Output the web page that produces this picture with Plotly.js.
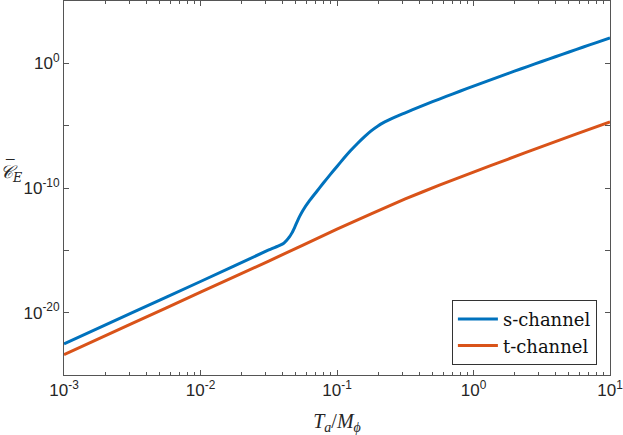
<!DOCTYPE html>
<html>
<head>
<meta charset="utf-8">
<script src="https://cdn.plot.ly/plotly-3.0.1.min.js"></script>
<style>
  html, body { margin: 0; padding: 0; background: #fff; }
  #myDiv { width: 623px; height: 435px; }
</style>
</head>
<body>
<div id="myDiv"></div>
<script>
// values, kept as powers of ten
var sLogX = [-3, -2.5, -2, -1.5, -1.42, -1.39, -1.37, -1.35, -1.33, -1.31, -1.29, -1.27, -1.25,
             -1.2, -1.15, -1.1, -1.05, -1, -0.95, -0.9, -0.85, -0.8, -0.75, -0.7, -0.65, -0.6,
             -0.55, -0.5, -0.4, -0.3, -0.2, -0.1, 0, 0.1, 0.2, 0.3, 0.4, 0.5, 0.6, 0.7, 0.8, 0.9, 1];
var sLogY = [-22.5, -20.0, -17.5, -14.97, -14.6, -14.43, -14.22, -13.95, -13.6, -13.15, -12.65, -12.2, -11.8,
             -11.0, -10.3, -9.6, -8.93, -8.27, -7.62, -7.0, -6.43, -5.9, -5.42, -5.02, -4.7, -4.44,
             -4.2, -3.97, -3.52, -3.08, -2.655, -2.24, -1.83, -1.425, -1.025, -0.63, -0.24, 0.145, 0.53, 0.91, 1.29, 1.665, 2.04];
var tLogX = [-3, -2.5, -2, -1.5, -1, -0.75, -0.5, -0.25, 0, 0.25, 0.5, 0.75, 1];
var tLogY = [-23.36, -20.86, -18.36, -15.86, -13.3, -12.07, -10.88, -9.77, -8.72, -7.7, -6.68, -5.68, -4.7];

var yTickVals = [1e-20, 1e-15, 1e-10, 1e-5, 1e0];
var yTickText = ['10<sup>-20</sup>', '', '10<sup>-10</sup>', '', '10<sup>0</sup>'];
var xTickVals = [1e-3, 1e-2, 1e-1, 1e0, 1e1];
var xTickText = ['10<sup>-3</sup>', '10<sup>-2</sup>', '10<sup>-1</sup>', '10<sup>0</sup>', '10<sup>1</sup>'];
var xMinorVals = [];
[1e-3, 1e-2, 1e-1, 1e0].forEach(function(d){
  for (var k = 2; k <= 9; k++) xMinorVals.push(k * d);
});

function pow10(a){ return a.map(function(v){ return Math.pow(10, v); }); }

var axisCol = '#555555',
    textCol = '#262626',
    serif = 'Liberation Serif, DejaVu Serif, serif';

var data = [
  {x: pow10(sLogX), y: pow10(sLogY), type: 'scatter', mode: 'lines', name: 's-channel',
   line: {color: '#0072BD', width: 3, shape: 'spline', smoothing: 0.5}},
  {x: pow10(tLogX), y: pow10(tLogY), type: 'scatter', mode: 'lines', name: 't-channel',
   line: {color: '#D95319', width: 3, shape: 'spline', smoothing: 0.5}}
];

var layout = {
  width: 623, height: 435,
  margin: {l: 64, r: 13, t: 1, b: 60},
  paper_bgcolor: '#fff', plot_bgcolor: '#fff',
  font: {family: 'Liberation Sans, Arial, sans-serif', size: 17, color: textCol},
  showlegend: true,
  legend: {
    x: 0.976, y: 0.027, xanchor: 'right', yanchor: 'bottom',
    bgcolor: '#fff', bordercolor: '#333', borderwidth: 1,
    font: {family: 'DejaVu Serif, Liberation Serif, serif', size: 18, color: '#111'},
    tracegroupgap: 0, itemwidth: 40
  },
  xaxis: {
    type: 'log', range: [-3, 1],
    tickmode: 'array', tickvals: xTickVals, ticktext: xTickText,
    ticklabeloverflow: 'allow',
    ticks: 'inside', ticklen: 5, tickcolor: axisCol,
    minor: {tickmode: 'array', tickvals: xMinorVals, ticks: 'inside', ticklen: 3, tickcolor: axisCol, showgrid: false},
    showline: true, linecolor: axisCol, linewidth: 1, mirror: 'ticks',
    showgrid: false, zeroline: false,
    tickfont: {size: 17, color: textCol},
    title: {
      text: '<i>T</i><sub><i>a</i></sub>/<i>M</i><sub><i>ϕ</i></sub>',
      font: {family: serif, size: 20, color: textCol},
      standoff: 14
    }
  },
  yaxis: {
    type: 'log', range: [-25, 5],
    tickmode: 'array', tickvals: yTickVals, ticktext: yTickText,
    ticklabeloverflow: 'allow',
    ticks: 'inside', ticklen: 5, tickcolor: axisCol,
    showline: true, linecolor: axisCol, linewidth: 1, mirror: 'ticks',
    showgrid: false, zeroline: false,
    tickfont: {size: 17, color: textCol}
  },
  annotations: [
    {
      xref: 'paper', yref: 'paper', x: -0.12, y: 0.54, xanchor: 'left', yanchor: 'middle',
      showarrow: false,
      text: '<i>𝒞</i><sub><i>E</i></sub>',
      font: {family: 'DejaVu Serif, Liberation Serif, serif', size: 18, color: textCol}
    },
    {
      xref: 'paper', yref: 'paper', x: -0.099, y: 0.557, xanchor: 'center', yanchor: 'middle',
      showarrow: false,
      text: '¯',
      font: {family: serif, size: 17, color: textCol}
    }
  ]
};

Plotly.newPlot('myDiv', data, layout, {displayModeBar: false, staticPlot: true});
</script>
</body>
</html>
